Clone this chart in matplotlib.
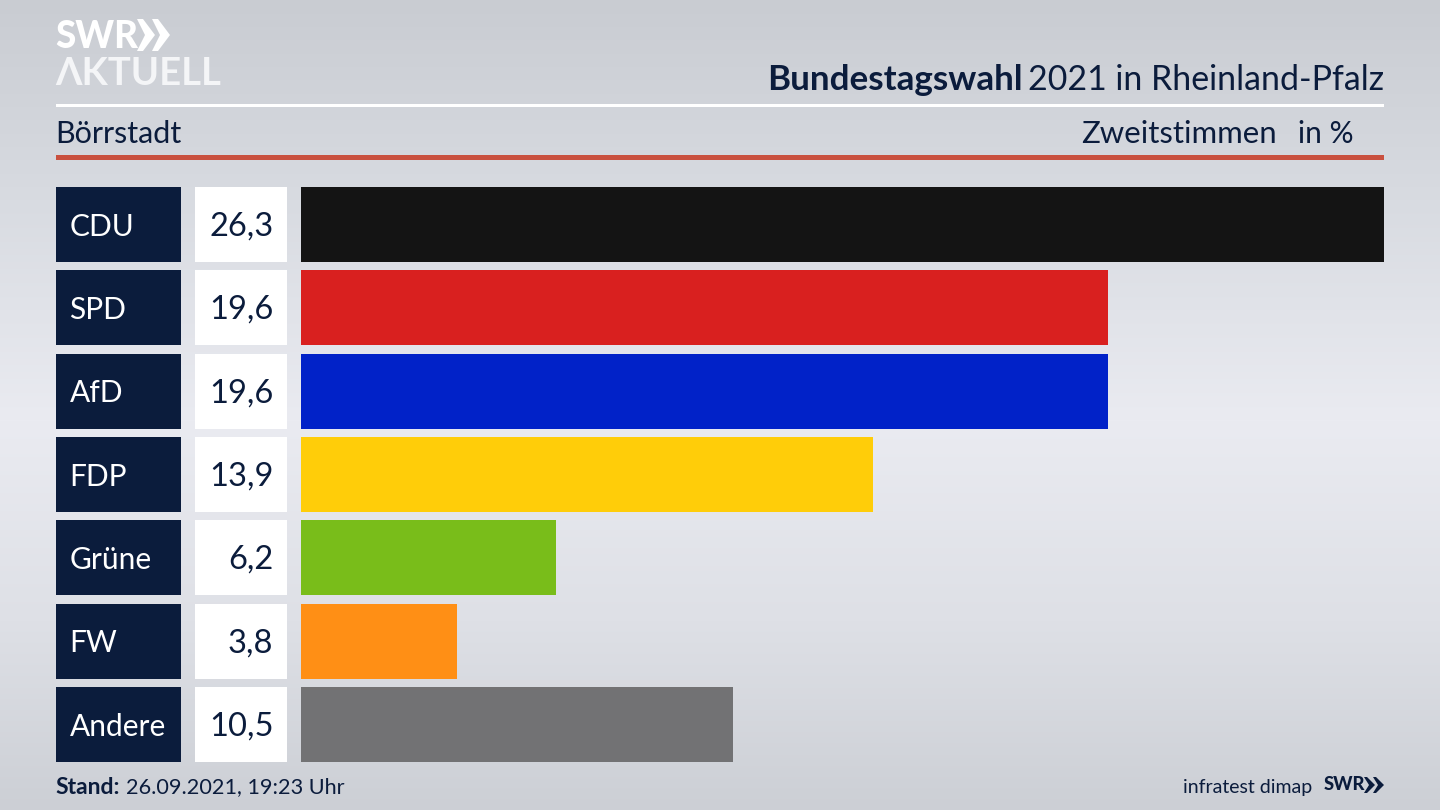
import numpy as np
import matplotlib
matplotlib.use("Agg")
import matplotlib.pyplot as plt
from matplotlib.patches import Polygon, Rectangle

parties = ["CDU", "SPD", "AfD", "FDP", "Grüne", "FW", "Andere"]
values = [26.3, 19.6, 19.6, 13.9, 6.2, 3.8, 10.5]
value_labels = ["26,3", "19,6", "19,6", "13,9", "6,2", "3,8", "10,5"]
colors = ["#141414", "#d9201f", "#0122c8", "#ffcd09", "#79bd1a", "#ff8f15", "#727274"]

NAVY = "#0b1c3c"
W, H = 1440, 810
plt.rcParams["font.family"] = ["Lato", "Noto Sans", "DejaVu Sans"]
fig = plt.figure(figsize=(W / 100, H / 100), dpi=100)

# canvas in pixel coordinates
bg = fig.add_axes([0, 0, 1, 1])
bg.set_xlim(0, W)
bg.set_ylim(H, 0)
bg.axis("off")
stops_y = np.array([0, 200, 420, 620, 810])
stops_v = np.array([[201, 204, 210], [216, 219, 225], [234, 235, 241], [222, 224, 230], [204, 207, 213]])
yy = np.arange(H)
grad = np.stack([np.interp(yy, stops_y, stops_v[:, i]) for i in range(3)], axis=1)[:, None, :] / 255
bg.imshow(grad, extent=[0, W, H, 0], aspect="auto", zorder=0)

# rules
bg.add_patch(Rectangle((56, 104), 1328, 3, color="white", lw=0, zorder=1))
bg.add_patch(Rectangle((56, 155), 1328, 5, color="#c9503f", lw=0, zorder=1))

# logo
bg.text(55, 37, "SWR", color="white", fontsize=26.5, fontweight="black", va="center", ha="left", zorder=2)
bg.text(55, 74, "\u039bKTUELL", color="#f4f5f7", fontsize=27.5, fontweight="bold", va="center", ha="left", zorder=2)
for x0 in (137, 152):
    bg.add_patch(Polygon([(x0, 19), (x0 + 6, 19), (x0 + 18, 35), (x0 + 6, 51), (x0, 51), (x0 + 8, 35)],
                         closed=True, color="white", lw=0, zorder=2))

# header text
bg.text(767.5, 80, "Bundestagswahl", color=NAVY, fontsize=25.2, fontweight="bold", va="center", ha="left", zorder=2)
bg.text(1384, 80, "2021 in Rheinland-Pfalz", color=NAVY, fontsize=24.4, va="center", ha="right", zorder=2)
bg.text(55, 134, "Börrstadt", color=NAVY, fontsize=22, va="center", ha="left", zorder=2)
bg.text(1277, 134, "Zweitstimmen", color=NAVY, fontsize=22.4, va="center", ha="right", zorder=2)
bg.text(1354, 134, "in %", color=NAVY, fontsize=21.5, va="center", ha="right", zorder=2)

# footer
bg.text(55, 787, "Stand:", color=NAVY, fontsize=16.5, fontweight="bold", va="center", ha="left", zorder=2)
bg.text(126, 787, "26.09.2021, 19:23 Uhr", color=NAVY, fontsize=15.6, va="center", ha="left", zorder=2)
bg.text(1312, 787, "infratest dimap", color=NAVY, fontsize=14, va="center", ha="right", zorder=2)
bg.text(1324, 785, "SWR", color=NAVY, fontsize=13.2, fontweight="black", va="center", ha="left", zorder=2)
for x0 in (1364, 1373):
    bg.add_patch(Polygon([(x0, 777), (x0 + 3, 777), (x0 + 11, 785), (x0 + 3, 793), (x0, 793), (x0 + 5, 785)],
                         closed=True, color=NAVY, lw=0, zorder=2))

# bar area, shared vertical scale for boxes and bars
top, bottom = 187, 762
step = (bottom - top - 75) / 6
pad = 37.5 / step
rowh = 75 / step
text_nudge = 2 / step


def row_axes(x0, x1):
    ax = fig.add_axes([x0 / W, 1 - bottom / H, (x1 - x0) / W, (bottom - top) / H])
    ax.set_ylim(len(parties) - 1 + pad, -pad)
    ax.axis("off")
    ax.patch.set_alpha(0)
    return ax


y = np.arange(len(parties))

ax_party = row_axes(56, 181)
ax_party.set_xlim(0, 1)
ax_party.barh(y, [1] * len(parties), height=rowh, color=NAVY, lw=0)
for yi, p in zip(y, parties):
    ax_party.text(13.5 / 125, yi + text_nudge, p, color="white", fontsize=21.5, va="center", ha="left")

ax_val = row_axes(195, 287)
ax_val.set_xlim(0, 1)
ax_val.barh(y, [1] * len(parties), height=rowh, color="white", lw=0)
for yi, v in zip(y, value_labels):
    ax_val.text(78.5 / 92, yi + text_nudge, v, color=NAVY, fontsize=23.5, va="center", ha="right")

ax = row_axes(301, 1384)
ax.set_xlim(0, max(values))
ax.barh(y, values, height=rowh, color=colors, lw=0)

fig.savefig("out.png", dpi=100)
